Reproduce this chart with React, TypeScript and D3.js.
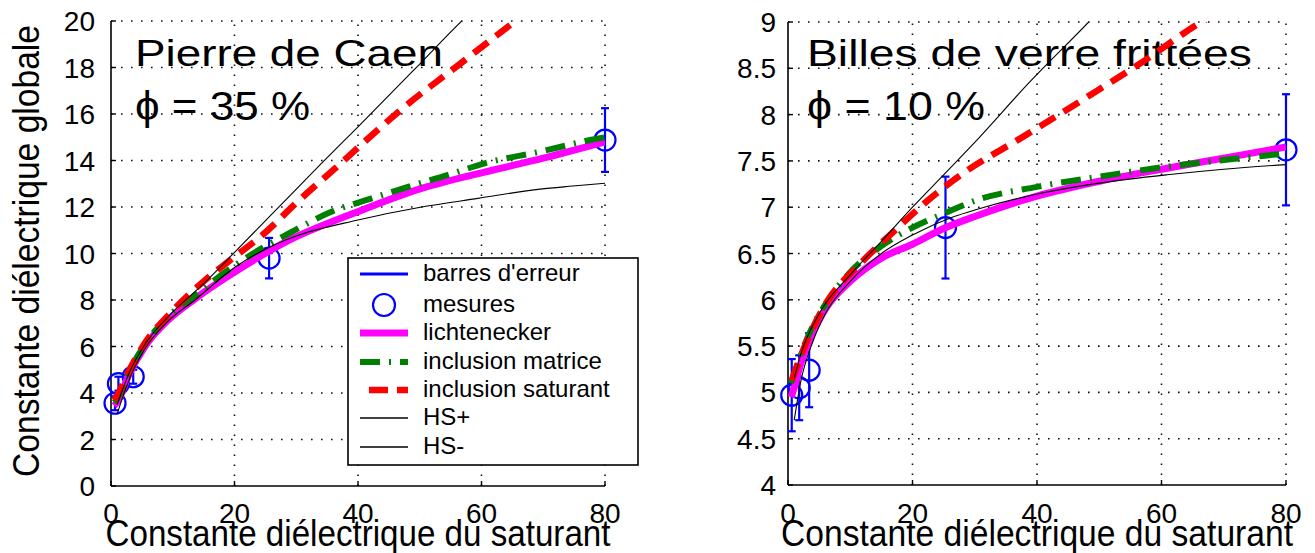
import React from 'react';
import * as d3 from 'd3';

type Pt = [number, number];

// ---------- shared ticks ----------
const xTickValues = [0, 20, 40, 60, 80];
const caenYTicks = [0, 2, 4, 6, 8, 10, 12, 14, 16, 18, 20];
const verreYTicks = [4, 4.5, 5, 5.5, 6, 6.5, 7, 7.5, 8, 8.5, 9];
const verreYTickLabels = ['4', '4.5', '5', '5.5', '6', '6.5', '7', '7.5', '8', '8.5', '9'];

// ---------- Pierre de Caen (phi = 35 %) ----------
const caenMeasX = [0.65, 1.2, 3.6, 25.6, 80];
const caenMeasY = [3.56, 4.4, 4.7, 9.8, 14.88];
const caenMeasErr = [0.3, 0.3, 0.3, 0.87, 1.37];
const caenLichtenecker: Pt[] = [[0.5, 3.45], [1, 3.6], [3, 4.85], [5.5, 6.0], [9.3, 7.15], [13.6, 8.05], [20.6, 9.3], [28.7, 10.55], [39.5, 11.75], [50.3, 12.8], [60.5, 13.5], [70, 14.1], [80, 14.8]];
const caenInclMatrice: Pt[] = [[0.5, 3.6], [1, 3.75], [3, 4.95], [5.5, 6.1], [9.3, 7.3], [13.6, 8.2], [18, 9.1], [23, 10.0], [28.7, 10.85], [36.2, 11.85], [42.2, 12.37], [48.1, 12.87], [54.6, 13.38], [60.5, 13.88], [69.5, 14.38], [77.6, 14.88], [80, 15.0]];
const caenInclSaturant: Pt[] = [[0.5, 3.7], [1, 3.9], [3, 5.0], [5.5, 6.15], [9.3, 7.35], [15, 8.8], [19, 9.65], [25.4, 11.0], [29.7, 12.1], [37.3, 13.9], [42.5, 15.15], [46.8, 16.15], [56, 18.05], [65.5, 20.0], [68, 20.5]];
const caenHSplus: Pt[] = [[1, 3.5], [3, 4.9], [5.5, 6.1], [9.3, 7.3], [15, 8.7], [20, 10.05], [27, 11.95], [34, 13.85], [40, 15.45], [50, 18.15], [57, 20.05], [58, 20.3]];
const caenHSminus: Pt[] = [[1, 3.1], [2, 3.9], [3, 4.6], [5.5, 5.9], [9.3, 7.1], [13.6, 8.0], [20, 9.4], [25.5, 10.25], [30, 10.75], [40, 11.44], [50.3, 12.0], [59.4, 12.37], [69.5, 12.77], [74.8, 12.9], [80, 13.02]];

// ---------- Billes de verre frittees (phi = 10 %) ----------
const verreMeasX = [0.6, 1.8, 3.4, 25.3, 80];
const verreMeasY = [4.97, 5.05, 5.24, 6.78, 7.62];
const verreMeasErr = [0.39, 0.35, 0.4, 0.55, 0.6];
const verreLichtenecker: Pt[] = [[0.5, 4.95], [1, 5.05], [2, 5.3], [4, 5.65], [6, 5.9], [10, 6.2], [15, 6.45], [20, 6.6], [25, 6.77], [30, 6.9], [40, 7.12], [50, 7.28], [60, 7.41], [70, 7.53], [80, 7.65]];
const verreInclMatrice: Pt[] = [[0.5, 5.1], [1, 5.2], [2, 5.4], [4, 5.72], [6, 5.95], [10, 6.3], [15, 6.58], [20, 6.78], [25, 6.93], [30, 7.07], [40, 7.22], [50, 7.33], [60, 7.43], [70, 7.51], [80, 7.58]];
const verreInclSaturant: Pt[] = [[0.6, 5.13], [3, 5.55], [6, 5.95], [11.6, 6.39], [17.2, 6.75], [22.6, 7.08], [28.2, 7.37], [37, 7.73], [47.1, 8.15], [57.2, 8.58], [66.4, 9.0], [69, 9.1]];
const verreHSplus: Pt[] = [[1, 5.15], [2, 5.4], [5, 5.85], [10, 6.27], [15, 6.63], [20, 7.0], [25, 7.35], [30, 7.7], [38.8, 8.35], [48.3, 9.0], [50, 9.12]];
const verreHSminus: Pt[] = [[1, 4.7], [2, 5.1], [4, 5.55], [6, 5.85], [10, 6.2], [15, 6.5], [20, 6.7], [26.7, 6.9], [30, 6.97], [40.6, 7.15], [50, 7.26], [60.9, 7.35], [70, 7.41], [80, 7.46]];

const legendLabels = ["barres d'erreur", 'mesures', 'lichtenecker', 'inclusion matrice', 'inclusion saturant', 'HS+', 'HS-'];

const FONT = "'Liberation Sans', Arial, Helvetica, sans-serif";
const MAGENTA = '#ff00ff';
const GREEN = '#008000';
const RED = '#ff0000';
const BLUE = '#0000ff';
const GREEN_DASH = '20 9 2 9';
const RED_DASH = '18 10';

interface PanelCfg {
  id: string;
  x0: number; x1: number; yTop: number; yBottom: number;
  yDomain: [number, number];
  yTicks: number[];
  yTickLabels: string[];
  yLabelRight: number;
  measX: number[]; measY: number[]; measErr: number[];
  licht: Pt[]; matrice: Pt[]; saturant: Pt[]; hsPlus: Pt[]; hsMinus: Pt[];
  title: string; titleX: number; titleLen: number;
  phi: string; phiLen: number;
  xLabelLen: number;
}

function Panel({ c }: { c: PanelCfg }) {
  const x = d3.scaleLinear().domain([0, 80]).range([c.x0, c.x1]);
  const y = d3.scaleLinear().domain(c.yDomain).range([c.yBottom, c.yTop]);
  const line = d3.line<Pt>().x(d => x(d[0])).y(d => y(d[1])).curve(d3.curveMonotoneX);
  const clipId = `clip-${c.id}`;
  const grid = { stroke: '#111', strokeWidth: 1.6, strokeDasharray: '1.6 8.4', fill: 'none' };
  return (
    <g>
      <defs>
        <clipPath id={clipId}>
          <rect x={c.x0} y={c.yTop} width={c.x1 - c.x0} height={c.yBottom - c.yTop} />
        </clipPath>
      </defs>
      {/* grid */}
      {xTickValues.filter(v => v !== 0).map(v => (
        <line key={`gx${v}`} x1={x(v)} x2={x(v)} y1={c.yBottom} y2={c.yTop} style={grid} />
      ))}
      {c.yTicks.filter((v, i) => i !== 0).map(v => (
        <line key={`gy${v}`} x1={c.x0} x2={c.x1} y1={y(v)} y2={y(v)} style={grid} />
      ))}
      {/* axes */}
      <line x1={c.x0} x2={c.x0} y1={c.yTop} y2={c.yBottom} stroke="#000" strokeWidth={1.6} />
      <line x1={c.x0} x2={c.x1} y1={c.yBottom} y2={c.yBottom} stroke="#000" strokeWidth={1.6} />
      {c.yTicks.map(v => (
        <line key={`ty${v}`} x1={c.x0} x2={c.x0 + 5} y1={y(v)} y2={y(v)} stroke="#000" strokeWidth={1.4} />
      ))}
      {xTickValues.map(v => (
        <line key={`tx${v}`} x1={x(v)} x2={x(v)} y1={c.yBottom} y2={c.yBottom - 5} stroke="#000" strokeWidth={1.4} />
      ))}
      {/* tick labels */}
      {c.yTicks.map((v, i) => (
        <text key={`ly${v}`} x={c.yLabelRight} y={y(v)} dy="0.36em" textAnchor="end" fontSize={28} fontFamily={FONT} fill="#000">{c.yTickLabels[i]}</text>
      ))}
      {xTickValues.map(v => (
        <text key={`lx${v}`} x={x(v)} y={523} textAnchor="middle" fontSize={28} fontFamily={FONT} fill="#000">{v}</text>
      ))}
      {/* titles */}
      <text x={c.titleX} y={66} fontSize={37} fontFamily={FONT} textLength={c.titleLen} lengthAdjust="spacingAndGlyphs" fill="#000">{c.title}</text>
      <text x={c.titleX} y={120} fontSize={41} fontFamily={FONT} textLength={c.phiLen} lengthAdjust="spacingAndGlyphs" fill="#000">{c.phi}</text>
      {/* error bars */}
      {c.measX.map((mx, i) => {
        const xp = x(mx);
        const yl = y(c.measY[i] - c.measErr[i]);
        const yh = y(c.measY[i] + c.measErr[i]);
        return (
          <g key={`eb${i}`} stroke={BLUE} strokeWidth={2.2}>
            <line x1={xp} x2={xp} y1={yl} y2={yh} />
            <line x1={xp - 4} x2={xp + 4} y1={yl} y2={yl} />
            <line x1={xp - 4} x2={xp + 4} y1={yh} y2={yh} />
          </g>
        );
      })}
      {c.measX.map((mx, i) => (
        <circle key={`m${i}`} cx={x(mx)} cy={y(c.measY[i])} r={10.5} fill="none" stroke={BLUE} strokeWidth={2.2} />
      ))}
      {/* model curves */}
      <g clipPath={`url(#${clipId})`} fill="none">
        <path d={line(c.licht) || ''} stroke={MAGENTA} strokeWidth={7} />
        <path d={line(c.matrice) || ''} stroke={GREEN} strokeWidth={6} strokeDasharray={GREEN_DASH} />
        <path d={line(c.saturant) || ''} stroke={RED} strokeWidth={6.5} strokeDasharray={RED_DASH} />
        <path d={line(c.hsPlus) || ''} stroke="#000" strokeWidth={1.1} />
        <path d={line(c.hsMinus) || ''} stroke="#000" strokeWidth={1.1} />
      </g>
      {/* x label */}
      <text x={(c.x0 + c.x1) / 2} y={546} textAnchor="middle" fontSize={36} fontFamily={FONT} textLength={c.xLabelLen} lengthAdjust="spacingAndGlyphs" fill="#000">Constante diélectrique du saturant</text>
    </g>
  );
}

function Legend() {
  const lx0 = 348, lx1 = 638, ly0 = 258, ly1 = 465;
  const rows = [274, 305, 333, 362, 390, 418, 447];
  const s0 = 360, s1 = 408, tx = 423;
  return (
    <g>
      <rect x={lx0} y={ly0} width={lx1 - lx0} height={ly1 - ly0} fill="#fff" stroke="#000" strokeWidth={1.6} />
      <line x1={s0} x2={s1} y1={rows[0]} y2={rows[0]} stroke={BLUE} strokeWidth={3} />
      <circle cx={(s0 + s1) / 2} cy={rows[1]} r={11} fill="none" stroke={BLUE} strokeWidth={2.2} />
      <line x1={s0} x2={s1} y1={rows[2]} y2={rows[2]} stroke={MAGENTA} strokeWidth={7} />
      <line x1={s0} x2={s1} y1={rows[3]} y2={rows[3]} stroke={GREEN} strokeWidth={6} strokeDasharray={GREEN_DASH} />
      <line x1={s0} x2={s1} y1={rows[4]} y2={rows[4]} stroke={RED} strokeWidth={6.5} strokeDasharray="0 9 19 9 11" />
      <line x1={s0} x2={s1} y1={rows[5]} y2={rows[5]} stroke="#000" strokeWidth={1.4} />
      <line x1={s0} x2={s1} y1={rows[6]} y2={rows[6]} stroke="#000" strokeWidth={1.4} />
      {legendLabels.map((t, i) => (
        <text key={t} x={tx} y={rows[i] + 7} fontSize={24} fontFamily={FONT} fill="#000">{t}</text>
      ))}
    </g>
  );
}

const caenCfg: PanelCfg = {
  id: 'caen', x0: 111, x1: 605, yTop: 21, yBottom: 486,
  yDomain: [0, 20], yTicks: caenYTicks, yTickLabels: caenYTicks.map(String), yLabelRight: 95,
  measX: caenMeasX, measY: caenMeasY, measErr: caenMeasErr,
  licht: caenLichtenecker, matrice: caenInclMatrice, saturant: caenInclSaturant, hsPlus: caenHSplus, hsMinus: caenHSminus,
  title: 'Pierre de Caen', titleX: 135, titleLen: 308, phi: 'ϕ = 35 %', phiLen: 175, xLabelLen: 505,
};

const verreCfg: PanelCfg = {
  id: 'verre', x0: 788, x1: 1286, yTop: 22, yBottom: 485,
  yDomain: [4, 9], yTicks: verreYTicks, yTickLabels: verreYTickLabels, yLabelRight: 776,
  measX: verreMeasX, measY: verreMeasY, measErr: verreMeasErr,
  licht: verreLichtenecker, matrice: verreInclMatrice, saturant: verreInclSaturant, hsPlus: verreHSplus, hsMinus: verreHSminus,
  title: 'Billes de verre frittées', titleX: 807, titleLen: 445, phi: 'ϕ = 10 %', phiLen: 178, xLabelLen: 512,
};

export default function App() {
  return (
    <svg width={1315} height={553} viewBox="0 0 1315 553" style={{ position: 'absolute', left: 0, top: 0, background: '#fff' }}>
      <rect x={0} y={0} width={1315} height={553} fill="#fff" />
      <Panel c={caenCfg} />
      <Panel c={verreCfg} />
      <Legend />
      <text transform="translate(39,251) rotate(-90)" textAnchor="middle" fontSize={36} fontFamily={FONT} textLength={452} lengthAdjust="spacingAndGlyphs" fill="#000">Constante diélectrique globale</text>
    </svg>
  );
}
